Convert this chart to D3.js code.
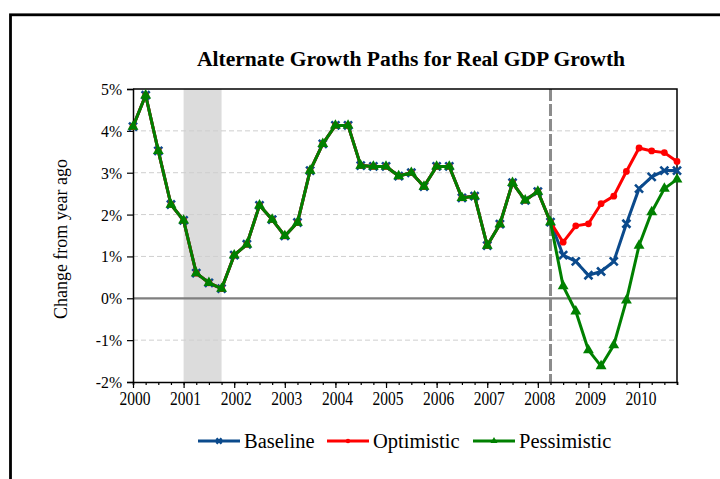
<!DOCTYPE html>
<html>
<head>
<meta charset="utf-8">
<script src="https://cdn.jsdelivr.net/npm/d3@7"></script>
<style>
  html, body { margin: 0; padding: 0; background: #fff; }
  svg { display: block; }
  text { font-family: "Liberation Serif", "Times New Roman", serif; fill: #000; }
</style>
</head>
<body>
<svg id="chart" width="720" height="479"></svg>
<script>
// Quarterly periods, 2000Q1 through 2010Q4
const quarters = [
  "2000Q1","2000Q2","2000Q3","2000Q4","2001Q1","2001Q2","2001Q3","2001Q4",
  "2002Q1","2002Q2","2002Q3","2002Q4","2003Q1","2003Q2","2003Q3","2003Q4",
  "2004Q1","2004Q2","2004Q3","2004Q4","2005Q1","2005Q2","2005Q3","2005Q4",
  "2006Q1","2006Q2","2006Q3","2006Q4","2007Q1","2007Q2","2007Q3","2007Q4",
  "2008Q1","2008Q2","2008Q3","2008Q4","2009Q1","2009Q2","2009Q3","2009Q4",
  "2010Q1","2010Q2","2010Q3","2010Q4"
];

// Actual real GDP growth (% change from year ago), 2000Q1–2008Q2
const history = [
  4.10, 4.85, 3.52, 2.24, 1.86, 0.60, 0.37, 0.23,
  1.03, 1.29, 2.22, 1.88, 1.49, 1.81, 3.05, 3.69,
  4.13, 4.13, 3.17, 3.15, 3.15, 2.92, 3.00, 2.67,
  3.15, 3.15, 2.40, 2.44, 1.26, 1.77, 2.76, 2.34,
  2.55, 1.82
];

// Scenario paths, 2008Q3–2010Q4
const baselineForecast    = [1.03, 0.88, 0.55, 0.64, 0.88, 1.78, 2.62, 2.90, 3.05, 3.05];
const optimisticForecast  = [1.34, 1.73, 1.78, 2.26, 2.44, 3.03, 3.59, 3.52, 3.48, 3.27];
const pessimisticForecast = [0.29, -0.31, -1.24, -1.62, -1.12, -0.05, 1.26, 2.06, 2.62, 2.84];

const seriesNames  = ["Baseline", "Optimistic", "Pessimistic"];
const seriesColors = ["#0b4a8c", "#ff0000", "#008000"];
const yTicks = [-2, -1, 0, 1, 2, 3, 4, 5];
const xYears = [2000, 2001, 2002, 2003, 2004, 2005, 2006, 2007, 2008, 2009, 2010];
const recession = ["2001Q1", "2001Q4"];
const forecastStart = "2008Q2";

const qToYear = q => +q.slice(0, 4) + (+q.slice(5) - 1) / 4;

const svg = d3.select("#chart");

// Outer frame
svg.append("rect")
  .attr("x", 10.5).attr("y", 14.8).attr("width", 800).attr("height", 600)
  .attr("fill", "none").attr("stroke", "#000").attr("stroke-width", 2.8);

const plotLeft = 133, plotRight = 677, plotTop = 89, plotBottom = 382;
const x = d3.scaleLinear()
  .domain([qToYear(quarters[0]), qToYear(quarters[quarters.length - 1])])
  .range([plotLeft, plotRight]);
const y = d3.scaleLinear().domain([-2, 5]).range([plotBottom, plotTop]);

// Recession shading
svg.append("rect")
  .attr("x", x(qToYear(recession[0])))
  .attr("y", plotTop)
  .attr("width", x(qToYear(recession[1])) - x(qToYear(recession[0])))
  .attr("height", plotBottom - plotTop)
  .attr("fill", "#dcdcdc");

// Gridlines
svg.append("g").selectAll("line")
  .data(yTicks.filter(t => t !== 0 && t !== -2 && t !== 5))
  .join("line")
  .attr("x1", plotLeft).attr("x2", plotRight)
  .attr("y1", d => y(d)).attr("y2", d => y(d))
  .attr("stroke", "#cfcfcf").attr("stroke-width", 1)
  .attr("stroke-dasharray", "5,3");

// Zero line
svg.append("line")
  .attr("x1", plotLeft).attr("x2", plotRight)
  .attr("y1", y(0)).attr("y2", y(0))
  .attr("stroke", "#7f7f7f").attr("stroke-width", 2.2);

// Forecast start marker
svg.append("line")
  .attr("x1", x(qToYear(forecastStart))).attr("x2", x(qToYear(forecastStart)))
  .attr("y1", plotTop).attr("y2", plotBottom)
  .attr("stroke", "#8c8c8c").attr("stroke-width", 3)
  .attr("stroke-dasharray", "12,3");

// Plot border (top and right)
svg.append("path")
  .attr("d", `M${plotLeft},${plotTop}H${plotRight}V${plotBottom}`)
  .attr("fill", "none").attr("stroke", "#000").attr("stroke-width", 1.5);

// Y axis
const yAxis = svg.append("g").attr("transform", `translate(${plotLeft},0)`)
  .call(d3.axisLeft(y).tickValues(yTicks).tickSize(6).tickFormat(d => d + "%"));
yAxis.select(".domain").attr("stroke", "#000").attr("stroke-width", 1.5);
yAxis.selectAll(".tick line").attr("stroke", "#000").attr("stroke-width", 1.2);
yAxis.selectAll(".tick text").remove();
yAxis.selectAll(".tick").append("text")
  .attr("text-anchor", "end")
  .attr("transform", "translate(-11,5.5) scale(0.9,1)")
  .style("font-size", "17.5px")
  .text(d => d + "%");

// X axis: year ticks plus quarterly minor ticks
const xAxisMinor = svg.append("g").attr("transform", `translate(0,${plotBottom})`)
  .call(d3.axisBottom(x).tickValues(quarters.map(qToYear).concat([x.domain()[1]])).tickSize(3).tickFormat(""));
xAxisMinor.select(".domain").attr("stroke", "#000").attr("stroke-width", 1.5);
xAxisMinor.selectAll(".tick line").attr("stroke", "#000").attr("stroke-width", 1.2);

const xAxis = svg.append("g").attr("transform", `translate(0,${plotBottom})`)
  .call(d3.axisBottom(x).tickValues(xYears).tickSize(6).tickFormat(""));
xAxis.select(".domain").remove();
xAxis.selectAll(".tick line").attr("stroke", "#000").attr("stroke-width", 1.2);
xAxis.selectAll(".tick").append("text")
  .attr("text-anchor", "middle")
  .attr("transform", "translate(1.5,22.5) scale(0.84,1)")
  .style("font-size", "18.5px")
  .text(d => d);

// Series
const series = [
  history.concat(baselineForecast),
  history.concat(optimisticForecast),
  history.concat(pessimisticForecast)
].map((vals, i) => ({
  name: seriesNames[i],
  color: seriesColors[i],
  values: vals.map((v, j) => ({ t: qToYear(quarters[j]), v }))
}));

const line = d3.line().x(d => x(d.t)).y(d => y(d.v));

function drawMarker(g, kind, color, size) {
  if (kind === 0) {
    const s = size;
    g.append("path")
      .attr("d", `M${-s},${-s}L${s},${s}M${-s},${s}L${s},${-s}`)
      .attr("stroke", color).attr("stroke-width", 2.6).attr("fill", "none");
  } else if (kind === 1) {
    g.append("circle").attr("r", size * 0.85).attr("fill", color);
  } else {
    g.append("path")
      .attr("d", d3.symbol(d3.symbolTriangle, size * size * 3.2)())
      .attr("fill", color);
  }
}

series.forEach((s, i) => {
  const g = svg.append("g");
  g.append("path")
    .datum(s.values)
    .attr("d", line)
    .attr("fill", "none")
    .attr("stroke", s.color)
    .attr("stroke-width", 3)
    .attr("stroke-linejoin", "round");
  g.selectAll("g.pt")
    .data(s.values)
    .join("g")
    .attr("class", "pt")
    .attr("transform", d => `translate(${x(d.t)},${y(d.v)})`)
    .each(function() { drawMarker(d3.select(this), i, s.color, 4); });
});

// Title
svg.append("text")
  .attr("x", 411).attr("y", 66)
  .attr("text-anchor", "middle")
  .style("font-size", "21.6px").style("font-weight", "bold")
  .text("Alternate Growth Paths for Real GDP Growth");

// Y axis title
svg.append("text")
  .attr("transform", "translate(67,239) rotate(-90) scale(0.92,1)")
  .attr("text-anchor", "middle")
  .style("font-size", "19.5px")
  .text("Change from year ago");

// Legend
const legendX = [198, 327, 473];
const legend = svg.append("g");
series.forEach((s, i) => {
  const g = legend.append("g").attr("transform", `translate(${legendX[i]},441)`);
  g.append("line").attr("x1", 0).attr("x2", 42).attr("y1", 0).attr("y2", 0)
    .attr("stroke", s.color).attr("stroke-width", 3);
  const m = g.append("g").attr("transform", "translate(21,0)");
  drawMarker(m, i, s.color, 2.6);
  g.append("text")
    .attr("x", 46).attr("y", 7)
    .style("font-size", "20.5px")
    .text(s.name);
});
</script>
</body>
</html>
